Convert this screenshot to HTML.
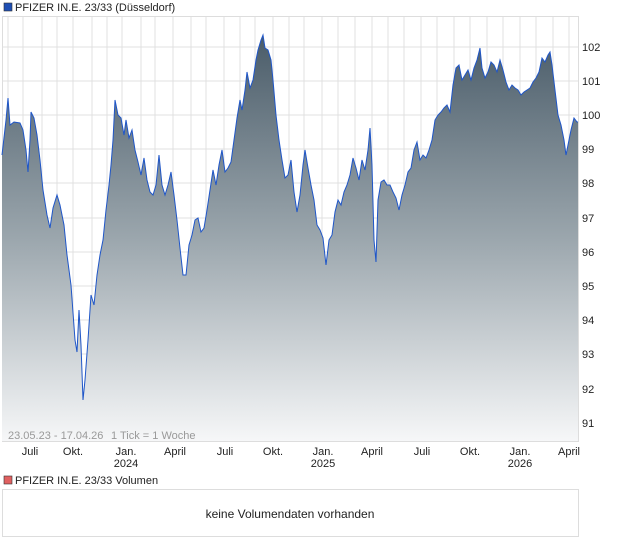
<!DOCTYPE html>
<html><head><style>
body{margin:0;width:620px;height:546px;background:#fff;font-family:"Liberation Sans",sans-serif;overflow:hidden}
</style></head><body>
<svg width="620" height="546" xmlns="http://www.w3.org/2000/svg" font-family="Liberation Sans, sans-serif">
<defs>
<linearGradient id="g" gradientUnits="userSpaceOnUse" x1="0" y1="35" x2="0" y2="441">
<stop offset="0" stop-color="#4a5c69"/><stop offset="0.5" stop-color="#9ba6ad"/><stop offset="1" stop-color="#f6f7f8"/>
</linearGradient>
</defs>
<rect x="4" y="3" width="8" height="8" fill="#1f4fb4" stroke="#333" stroke-width="0.6"/>
<text x="15" y="11" font-size="11" fill="#222">PFIZER IN.E. 23/33 (Düsseldorf)</text>
<rect x="2.5" y="16.5" width="576" height="425" fill="#fff" stroke="#ddd"/>
<g stroke="#e0e0e0" stroke-width="1">
<path d="M8 17V441M23 17V441M42 17V441M57 17V441M73 17V441M92 17V441M107 17V441M122 17V441M141 17V441M155 17V441M173 17V441M191 17V441M206 17V441M224 17V441M240 17V441M255 17V441M273 17V441M289 17V441M304 17V441M322 17V441M338 17V441M355 17V441M372 17V441M388 17V441M404 17V441M421 17V441M437 17V441M454 17V441M470 17V441M487 17V441M503 17V441M520 17V441M536 17V441M553 17V441M569 17V441"/>
<path d="M2 47H578M2 81H578M2 115H578M2 149H578M2 183H578M2 218H578M2 252H578M2 286H578M2 320H578M2 354H578M2 389H578M2 423H578"/>
</g>
<polygon fill="url(#g)" points="2,441 2,155 6,120 8,98 10,125 14,122 20,123 23,130 26,150 28,172 30,140 31,112 34,118 37,135 40,160 43,190 47,215 50,228 53,208 57,195 60,205 64,225 67,255 71,285 75,340 77,352 79,310 81,345 83,400 85,380 88,340 91,295 94,305 97,275 100,255 103,240 106,210 109,185 111,165 113,140 115,100 118,115 121,118 124,135 126,120 129,138 132,130 135,150 138,162 141,175 144,158 147,180 150,192 153,195 156,185 159,155 162,185 165,195 168,185 171,172 174,195 177,220 180,248 183,275 186,275 189,245 192,235 195,220 198,218 201,232 204,228 207,210 210,190 213,170 216,185 219,165 222,150 225,172 228,168 231,162 234,140 237,118 240,100 242,110 245,90 247,72 250,88 253,80 256,60 258,50 261,40 263,35 265,48 268,50 271,60 273,80 276,115 279,140 282,160 285,178 288,175 291,160 294,192 297,212 300,195 303,165 305,150 308,168 311,185 314,200 317,225 320,230 323,238 326,265 329,240 332,235 335,212 338,200 341,205 344,192 347,185 350,175 353,158 356,168 359,180 362,160 365,170 368,150 370,128 372,165 374,240 376,262 378,200 381,182 384,180 387,185 390,185 393,192 396,198 399,210 402,195 405,185 408,172 411,168 414,150 417,142 420,160 423,155 426,158 429,150 432,140 435,120 438,115 441,112 444,108 447,105 450,112 453,85 456,68 459,65 462,80 465,75 468,70 471,80 474,68 477,60 480,48 482,68 485,78 488,72 491,62 494,65 497,72 500,60 503,70 506,82 509,90 512,85 515,88 518,90 521,95 524,92 527,90 530,88 533,82 536,78 539,72 542,58 545,62 548,55 550,52 552,65 555,90 558,115 561,125 564,140 566,155 568,145 571,130 574,118 577,122 578,122 578,441"/>
<polyline fill="none" stroke="#1f56c8" stroke-width="1" points="2,155 6,120 8,98 10,125 14,122 20,123 23,130 26,150 28,172 30,140 31,112 34,118 37,135 40,160 43,190 47,215 50,228 53,208 57,195 60,205 64,225 67,255 71,285 75,340 77,352 79,310 81,345 83,400 85,380 88,340 91,295 94,305 97,275 100,255 103,240 106,210 109,185 111,165 113,140 115,100 118,115 121,118 124,135 126,120 129,138 132,130 135,150 138,162 141,175 144,158 147,180 150,192 153,195 156,185 159,155 162,185 165,195 168,185 171,172 174,195 177,220 180,248 183,275 186,275 189,245 192,235 195,220 198,218 201,232 204,228 207,210 210,190 213,170 216,185 219,165 222,150 225,172 228,168 231,162 234,140 237,118 240,100 242,110 245,90 247,72 250,88 253,80 256,60 258,50 261,40 263,35 265,48 268,50 271,60 273,80 276,115 279,140 282,160 285,178 288,175 291,160 294,192 297,212 300,195 303,165 305,150 308,168 311,185 314,200 317,225 320,230 323,238 326,265 329,240 332,235 335,212 338,200 341,205 344,192 347,185 350,175 353,158 356,168 359,180 362,160 365,170 368,150 370,128 372,165 374,240 376,262 378,200 381,182 384,180 387,185 390,185 393,192 396,198 399,210 402,195 405,185 408,172 411,168 414,150 417,142 420,160 423,155 426,158 429,150 432,140 435,120 438,115 441,112 444,108 447,105 450,112 453,85 456,68 459,65 462,80 465,75 468,70 471,80 474,68 477,60 480,48 482,68 485,78 488,72 491,62 494,65 497,72 500,60 503,70 506,82 509,90 512,85 515,88 518,90 521,95 524,92 527,90 530,88 533,82 536,78 539,72 542,58 545,62 548,55 550,52 552,65 555,90 558,115 561,125 564,140 566,155 568,145 571,130 574,118 577,122 578,122"/>
<g font-size="11" fill="#222">
<text x="582" y="51">102</text><text x="582" y="85">101</text><text x="582" y="119">100</text><text x="582" y="153">99</text><text x="582" y="187">98</text><text x="582" y="222">97</text><text x="582" y="256">96</text><text x="582" y="290">95</text><text x="582" y="324">94</text><text x="582" y="358">93</text><text x="582" y="393">92</text><text x="582" y="427">91</text>
</g>
<text x="8" y="439" font-size="11" fill="#999">23.05.23 - 17.04.26</text>
<text x="111" y="439" font-size="11" fill="#999">1 Tick = 1 Woche</text>
<g font-size="11" fill="#222" text-anchor="middle">
<text x="30" y="455">Juli</text><text x="73" y="455">Okt.</text><text x="126" y="455">Jan.</text><text x="126" y="467">2024</text><text x="175" y="455">April</text><text x="225" y="455">Juli</text><text x="273" y="455">Okt.</text><text x="323" y="455">Jan.</text><text x="323" y="467">2025</text><text x="372" y="455">April</text><text x="422" y="455">Juli</text><text x="470" y="455">Okt.</text><text x="520" y="455">Jan.</text><text x="520" y="467">2026</text><text x="569" y="455">April</text>
</g>
<rect x="4" y="476" width="8" height="8" fill="#e06060" stroke="#333" stroke-width="0.6"/>
<text x="15" y="484" font-size="11" fill="#222">PFIZER IN.E. 23/33 Volumen</text>
<rect x="2.5" y="489.5" width="576" height="47" fill="#fff" stroke="#ddd"/>
<text x="290" y="518" font-size="12" fill="#222" text-anchor="middle">keine Volumendaten vorhanden</text>
</svg>
</body></html>
